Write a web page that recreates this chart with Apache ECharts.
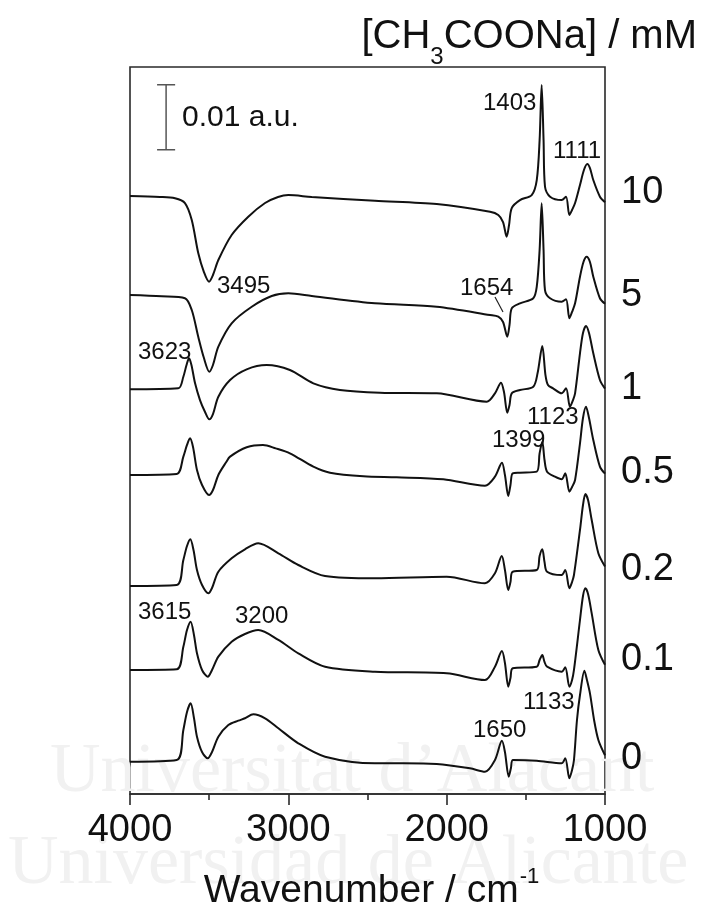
<!DOCTYPE html>
<html>
<head>
<meta charset="utf-8">
<script src="https://cdn.jsdelivr.net/npm/echarts@6/dist/echarts.min.js"></script>
<style>html,body{margin:0;padding:0;background:#fff}#c{width:701px;height:906px}</style>
</head>
<body>
<div id="c"></div>
<script>
// ---- DATA (absorbance in units of 0.001 a.u., relative to each spectrum's baseline) ----
const concLabels = ['10', '5', '1', '0.5', '0.2', '0.1', '0'];
const offsets = [92.0, 76.77, 62.26, 49.08, 32.0, 19.08, 4.97];

const spec10 = [[4000,0],[3811,-0.15],[3716,-0.35],[3653,-1.08],[3610,-3.69],[3569,-8.77],[3533,-11.7],[3501,-13.18],[3476,-12.15],[3442,-9.85],[3358,-6.0],[3253,-3.18],[3147,-1.08],[3065,-0.15],[3000,0.15],[2852,-0.15],[2453,-0.72],[2063,-1.23],[1726,-2.42],[1674,-2.92],[1644,-4.0],[1621,-6.26],[1606,-4.46],[1589,-1.85],[1537,-0.62],[1463,0.15],[1431,2.46],[1413,8.6],[1400,17.08],[1388,8.6],[1379,1.43],[1347,-0.1],[1274,-0.62],[1246,-0.1],[1225,-2.92],[1208,-2.15],[1189,-1.08],[1158,1.69],[1133,4.0],[1112,4.92],[1095,4.3],[1074,2.46],[1032,-0.1],[1000,-0.95]];
const spec5 = [[4000,0],[3800,-0.2],[3653,-0.5],[3610,-2.31],[3569,-6.42],[3533,-9.7],[3499,-11.8],[3476,-10.77],[3442,-7.95],[3358,-4.35],[3231,-1.8],[3105,-0.15],[3000,0.26],[2852,-0.15],[2453,-1.28],[2063,-1.8],[1726,-3.08],[1674,-3.34],[1644,-4.15],[1617,-6.42],[1603,-4.6],[1589,-2.05],[1537,-1.28],[1453,-0.5],[1431,1.28],[1413,6.92],[1400,14.1],[1388,6.92],[1379,0.77],[1347,-0.5],[1274,-1.03],[1246,-0.66],[1225,-3.58],[1208,-2.6],[1189,-1.28],[1158,2.82],[1136,5.08],[1116,5.89],[1095,5.08],[1074,2.82],[1032,-0.5],[1000,-1.35]];
const spec1 = [[4000,0],[3695,0.15],[3663,1.94],[3643,3.74],[3627,4.77],[3612,3.74],[3589,0.92],[3558,-1.65],[3526,-3.49],[3499,-4.62],[3476,-3.8],[3442,-1.14],[3368,1.43],[3263,3.08],[3137,3.74],[2990,2.97],[2842,0.92],[2674,-0.1],[2421,-0.52],[2063,-0.62],[1747,-1.91],[1695,-0.62],[1657,1.02],[1638,-0.42],[1617,-3.6],[1603,-2.42],[1589,-0.62],[1537,-0.11],[1453,0.4],[1426,2.46],[1396,6.66],[1376,2.2],[1360,0.66],[1328,0.15],[1274,-0.62],[1246,0.15],[1221,-2.68],[1202,-1.65],[1189,-0.62],[1158,5.54],[1139,8.66],[1120,9.74],[1101,8.66],[1074,5.54],[1032,1.43],[1000,0.1]];
const spec05 = [[4000,0],[3705,0.15],[3663,2.82],[3640,4.62],[3621,5.65],[3602,4.31],[3577,0.77],[3545,-1.54],[3501,-3.08],[3476,-2.31],[3442,0],[3392,2.0],[3368,2.82],[3263,4.26],[3160,4.62],[3080,4.1],[2990,3.34],[2842,1.28],[2737,0.35],[2526,-0.2],[2316,-0.35],[2021,-0.66],[1758,-1.65],[1695,-0.26],[1651,1.89],[1632,0],[1611,-3.23],[1597,-1.54],[1583,0.26],[1537,0.35],[1431,0.51],[1413,3.34],[1396,5.12],[1382,2.31],[1366,0.51],[1316,-0.26],[1274,-0.66],[1251,0.26],[1225,-2.57],[1208,-1.85],[1189,-0.77],[1158,4.88],[1139,8.77],[1120,10.5],[1101,8.77],[1074,5.38],[1032,1.28],[1000,0.2]];
const spec02 = [[4000,0],[3705,0.15],[3663,4.0],[3640,6.15],[3619,7.18],[3599,5.54],[3577,2.46],[3545,0.15],[3505,-1.12],[3482,-0.31],[3442,2.2],[3358,4.26],[3274,5.65],[3190,6.57],[3063,5.03],[2937,3.23],[2768,1.54],[2453,1.18],[2000,1.43],[1758,0.42],[1695,1.95],[1652,4.62],[1632,2.46],[1611,-0.62],[1597,0.62],[1583,2.2],[1431,2.46],[1413,4.62],[1396,5.65],[1382,3.69],[1366,2.2],[1274,1.69],[1251,2.46],[1225,-0.35],[1208,0.62],[1196,1.69],[1158,8.62],[1139,12.46],[1124,14.15],[1107,13.23],[1084,10.15],[1042,5.03],[1000,3.0]];
const spec01 = [[4000,0],[3705,0.11],[3663,3.58],[3640,6.15],[3617,7.43],[3596,5.38],[3577,2.57],[3545,0],[3509,-1.03],[3482,0],[3442,2.05],[3358,4.35],[3274,5.54],[3190,6.15],[3063,4.62],[2937,2.57],[2768,0.51],[2453,-0.26],[2000,-0.51],[1758,-1.54],[1695,0.51],[1651,2.92],[1632,1.08],[1611,-2.57],[1597,-1.23],[1583,0.26],[1431,0.51],[1413,1.54],[1396,2.31],[1382,1.23],[1366,0.51],[1274,-0.26],[1251,0.42],[1225,-2.57],[1208,-1.54],[1196,0],[1158,7.69],[1139,11.38],[1124,12.57],[1107,11.69],[1084,8.72],[1042,3.08],[1000,0.8]];
const spec0 = [[4000,0],[3705,0.26],[3663,4.88],[3640,7.65],[3617,8.98],[3596,6.72],[3577,3.85],[3545,1.49],[3509,0.52],[3482,1.49],[3442,3.85],[3379,5.65],[3316,6.31],[3274,6.68],[3221,7.29],[3147,6.68],[3063,5.14],[2937,2.83],[2768,0.77],[2453,-0.25],[2274,-0.25],[2063,-0.35],[1853,-1.02],[1758,-1.54],[1695,0.26],[1651,3.23],[1632,1.49],[1608,-2.31],[1594,-0.97],[1581,0.26],[1431,0.15],[1274,-0.25],[1251,0.52],[1225,-2.55],[1208,-1.28],[1196,0.26],[1177,6.42],[1158,10.26],[1130,14.0],[1114,12.57],[1095,10.52],[1069,6.42],[1042,3.35],[1000,1.0]];
const spectra = [spec10, spec5, spec1, spec05, spec02, spec01, spec0];

const xTicks = [1000, 2000, 3000, 4000];
const scaleBarValue = 10;      // 0.01 a.u.
const scaleBarBase = 99.1;
const scaleBarWn = 3772;

const peakLabels = ['1403','1111','3495','1654','3623','1123','1399','3615','3200','1133','1650'];

// ---- CHART ----
const FONT = '"Liberation Sans", Arial, sans-serif';
const chart = echarts.init(document.getElementById('c'), null, {renderer: 'canvas'});
const ctx = document.createElement('canvas').getContext('2d');
function tw(t, s) { ctx.font = s + 'px "Liberation Sans"'; return ctx.measureText(t).width; }

const series = spectra.map((sp, i) => ({
  type: 'line', data: sp.map(p => [p[0], p[1] + offsets[i]]),
  smooth: 0.3, showSymbol: false, symbol: 'none',
  lineStyle: {color: '#111', width: 2}, z: 5, silent: true
}));
const barColor = '#555';
const capHalf = 57;
[[[scaleBarWn, scaleBarBase], [scaleBarWn, scaleBarBase + scaleBarValue]],
 [[scaleBarWn + capHalf, scaleBarBase], [scaleBarWn - capHalf, scaleBarBase]],
 [[scaleBarWn + capHalf, scaleBarBase + scaleBarValue], [scaleBarWn - capHalf, scaleBarBase + scaleBarValue]]
].forEach(d => series.push({type: 'line', data: d, showSymbol: false, symbol: 'none', lineStyle: {color: barColor, width: 1.5}, z: 5, silent: true}));

const graphic = [];
function txt(t, x, y, size, opts) {
  graphic.push(Object.assign({
    type: 'text', x: x, y: y, z: 10, silent: true,
    style: {text: t, fontSize: size, fontFamily: FONT, fill: '#111', align: 'left', verticalAlign: 'middle', textAlign: 'left', textVerticalAlign: 'middle'}
  }, opts || {}));
}
// watermark
function wm(t, x, y, s) {
  graphic.push({type: 'text', x: x, y: y, z: 0, silent: true,
    style: {text: t, fontSize: s, fontFamily: '"Liberation Serif", "DejaVu Serif", serif', fill: '#f1f1f1', align: 'left', verticalAlign: 'middle'}});
}
wm("Universitat d\u2019Alacant", 50, 773, 70);
wm('Universidad de Alicante', 8, 865, 70);

// title with subscript
{
  const s1 = '[CH', s2 = '3', s3 = 'COONa] / mM';
  const w1 = tw(s1, 40), w2 = tw(s2, 24), w3 = tw(s3, 40);
  const left = 697 - (w1 + w2 + w3);
  txt(s1, left, 37, 40); txt(s2, left + w1, 57, 24); txt(s3, left + w1 + w2, 37, 40);
}
// x axis title with superscript
{
  const a = 'Wavenumber / cm', b = '-1';
  const wa = tw(a, 39), wb = tw(b, 22);
  const left = 371 - (wa + wb) / 2;
  txt(a, left, 891, 39); txt(b, left + wa + 1, 877, 22);
}
// scale label
txt('0.01 a.u.', 182, 118, 30);
// concentration labels
const concY = [193, 296, 389, 473, 570, 660, 759];
concLabels.forEach((l, i) => txt(l, 621, concY[i], 38));
// peak annotations
const peakPos = [[483,103],[553,151],[217,286],[460,288],[138,352],[527,417],[492,440],[138,612],[235,616],[523,702],[473,730]];
peakLabels.forEach((l, i) => txt(l, peakPos[i][0], peakPos[i][1], 24));
// leader line for 1654
graphic.push({type: 'line', z: 10, silent: true, shape: {x1: 495, y1: 297, x2: 503, y2: 312}, style: {stroke: '#222', lineWidth: 1.2}});

chart.setOption({
  animation: false,
  backgroundColor: '#fff',
  grid: {left: 130, right: 96, top: 67, bottom: 112, show: true, borderColor: '#2a2a2a', borderWidth: 1.6, backgroundColor: 'transparent'},
  xAxis: {
    type: 'value', inverse: true, min: xTicks[0], max: xTicks[xTicks.length - 1], interval: 1000,
    axisLine: {show: true, onZero: false, lineStyle: {color: '#2a2a2a', width: 1.6}},
    axisTick: {show: true, inside: false, length: 11, lineStyle: {color: '#2a2a2a', width: 1.6}},
    minorTick: {show: true, splitNumber: 2, length: 6, lineStyle: {color: '#2a2a2a', width: 1.6}},
    splitLine: {show: false}, minorSplitLine: {show: false},
    axisLabel: {fontSize: 38, color: '#111', fontFamily: FONT, margin: 18, formatter: v => String(v)}
  },
  yAxis: {type: 'value', min: 0, max: 111.85, show: false, splitLine: {show: false}},
  series: series,
  graphic: graphic
});
</script>
</body>
</html>
